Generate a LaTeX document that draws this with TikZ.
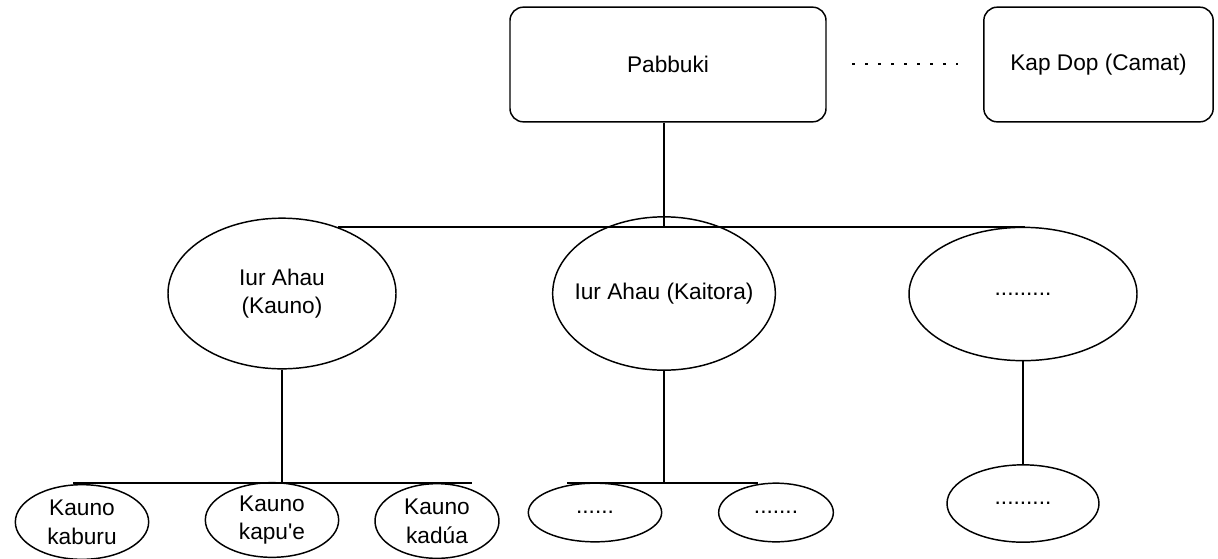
\documentclass[tikz,border=0pt]{standalone}
\usepackage{fontspec}
\setmainfont{Liberation Sans}[Ligatures=TeXOff]
\usetikzlibrary{shapes.geometric}
\begin{document}
\begin{tikzpicture}[x=0.75pt,y=-0.75pt,
  every node/.style={font=\fontsize{17pt}{21.5pt}\selectfont, align=center, inner sep=0pt},
  conn/.style={line width=1.1pt},
  boxst/.style={draw, line width=1.1pt, rounded corners=10pt, rectangle},
  ell/.style={draw, line width=1.1pt, ellipse}]
\useasboundingbox (0,0) rectangle (1218,558);
% top boxes
\node[boxst, minimum width=237pt, minimum height=86pt] (pab) at (668,64.5) {Pabbuki};
\node[boxst, minimum width=172pt, minimum height=86pt] (kap) at (1098.5,64.5) {Kap Dop (Camat)};
\coordinate (dotL) at (852,64);
\coordinate (dotR) at (958,64);
\draw[line width=2pt, dash pattern=on 2pt off 7.75pt] (dotL) -- (dotR);
% middle ellipses
\node[ell, minimum width=171pt, minimum height=113pt] (e1) at (282,293.5) {Iur Ahau\\(Kauno)};
\node[ell, minimum width=167pt, minimum height=115pt] (e2) at (664,293.5) {\makebox[0pt]{Iur Ahau (Kaitora)}};
\node[ell, minimum width=171pt, minimum height=100pt] (e3) at (1023,294) {.........};
% top bus
\coordinate (busL) at (338,227);
\coordinate (busR) at (1025,227);
\draw[conn] (busL) -- (busR);
\draw[conn] (pab.south -| e2.north) -- (busL -| e2.north);
% bottom ellipses
\node[ell, minimum width=100pt, minimum height=56pt] (b1) at (82,522) {Kauno\\kaburu};
\node[ell, minimum width=100pt, minimum height=56pt] (b2) at (272,520) {Kauno\\kapu'e};
\node[ell, minimum width=93pt, minimum height=56pt] (b3) at (437,521) {Kauno\\kadúa};
\node[ell, minimum width=100pt, minimum height=44pt] (c1) at (595,512.5) {......};
\node[ell, minimum width=86pt, minimum height=44pt] (c2) at (776,512.5) {.......};
\node[ell, minimum width=114pt, minimum height=58pt] (d1) at (1023,503.5) {.........};
% left branch
\coordinate (bus1L) at (73,483);
\coordinate (bus1R) at (472,483);
\draw[conn] (bus1L) -- (bus1R);
\draw[line width=1.6pt] (bus1L) -- ++(57,0);
\draw[conn] (e1.south) -- (bus1L -| e1.south);
% middle branch
\coordinate (bus2L) at (567,483);
\coordinate (bus2R) at (758,483);
\draw[conn] (bus2L) -- (bus2R);
\draw[conn] (e2.south) -- (bus2L -| e2.south);
% right branch
\draw[conn] (e3.south) -- (d1.north);
\end{tikzpicture}
\end{document}
